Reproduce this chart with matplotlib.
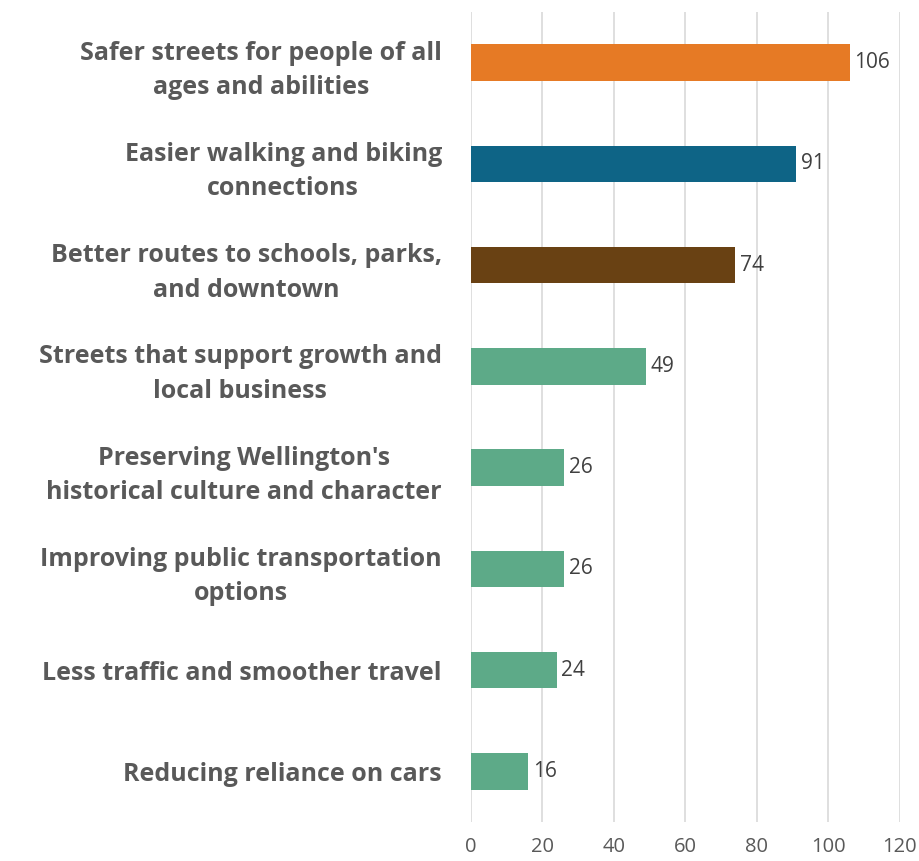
import matplotlib.pyplot as plt
import numpy as np

categories = [
    "Safer streets for people of all\nages and abilities",
    "Easier walking and biking\nconnections",
    "Better routes to schools, parks,\nand downtown",
    "Streets that support growth and\nlocal business",
    "Preserving Wellington's\nhistorical culture and character",
    "Improving public transportation\noptions",
    "Less traffic and smoother travel",
    "Reducing reliance on cars",
]
values = [106, 91, 74, 49, 26, 26, 24, 16]
bar_colors = ["#E67A25", "#0E6486", "#694113", "#5DAA88",
              "#5DAA88", "#5DAA88", "#5DAA88", "#5DAA88"]

plt.rcParams['font.family'] = ['Open Sans', 'DejaVu Sans']

fig = plt.figure(figsize=(9.2, 8.61), dpi=100)
ax = fig.add_axes([0.512, 0.0453, 0.466, 0.9407])

y = np.arange(len(categories))
ax.barh(y, values, height=0.36, color=bar_colors, zorder=3)
for yi, v in zip(y, values):
    ax.text(v + 1.3, yi, str(v), va='center', ha='left', fontsize=15,
            color='#404040')

ax.set_xlim(0, 120)
ax.set_ylim(len(categories) - 0.5, -0.5)
ax.set_xticks(range(0, 121, 20))
ax.xaxis.grid(True, color='#D9D9D9', linewidth=1.2, zorder=0)
ax.set_yticks(y)
ax.set_yticklabels(categories, fontsize=18, fontweight='bold',
                   color='#595959', linespacing=1.5)
for lbl in ax.get_yticklabels():
    lbl.set_multialignment('center')
ax.tick_params(axis='y', length=0, pad=21)
ax.tick_params(axis='x', length=0, pad=11, labelsize=14.5, labelcolor='#595959')
for s in ax.spines.values():
    s.set_visible(False)

fig.savefig('out.png', dpi=100)
